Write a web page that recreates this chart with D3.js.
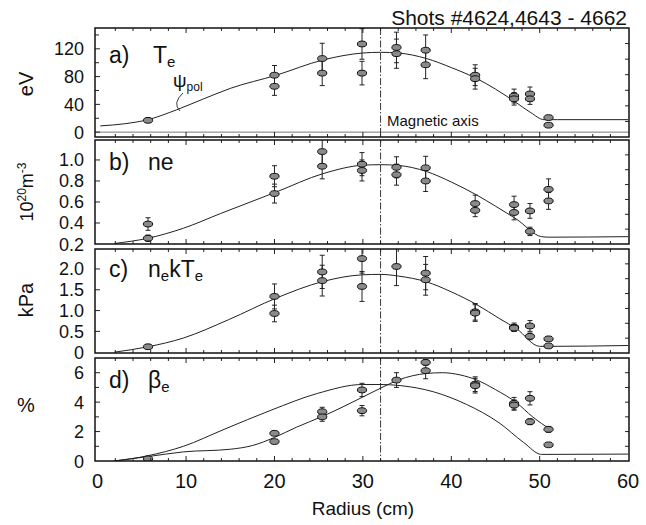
<!DOCTYPE html>
<html><head><meta charset="utf-8">
<script src="https://cdn.jsdelivr.net/npm/d3@7"></script>
<style>
body{margin:0;background:#fff;}
svg text{font-family:"Liberation Sans",Arial,Helvetica,sans-serif;fill:#111;}
</style></head>
<body><svg id="c" width="646" height="525"></svg>
<script>
// ---------- data ----------
const xTickLabels = [0, 10, 20, 30, 40, 50, 60];
const magneticAxis = 32;
// [radius cm, value, error]
const tePoints = [
 [5.7,17,3],[20,82,14],[20,66,13],[25.4,106,22],[25.4,85,18],[29.9,127,22],[29.9,85,17],
 [33.8,122,22],[33.8,113,21],[37.1,118,22],[37.1,97,20],[42.7,82,15],[42.7,77,15],
 [47.1,52,10],[47.1,48,9],[48.9,55,10],[48.9,48,8],[51.0,21,3],[51.0,10,2]];
const teCurve = [[0.3,9],[3,12],[5.7,18],[8.9,32],[12,48],[15,63],[20.2,82],[25.5,104],[30,114],
 [32,115],[34,114],[37.2,106],[40,93],[42.9,77],[45,62],[47.4,42],[49,28],[50.5,18],[52,18],[60,18]];
const nePoints = [
 [5.7,0.39,0.06],[5.7,0.255,0.03],[20,0.845,0.1],[20,0.68,0.09],[25.4,1.08,0.12],[25.4,0.94,0.12],
 [29.9,0.96,0.11],[29.9,0.9,0.1],[33.8,0.93,0.1],[33.8,0.86,0.1],[37.1,0.925,0.11],[37.1,0.8,0.1],
 [42.7,0.585,0.08],[42.7,0.52,0.06],[47.1,0.575,0.08],[47.1,0.5,0.07],[48.9,0.515,0.07],[48.9,0.32,0.04],
 [51.0,0.72,0.1],[51.0,0.61,0.08]];
const neCurve = [[1.9,0.205],[5.7,0.255],[9.7,0.35],[13.9,0.49],[20.2,0.695],[25.5,0.87],[30,0.95],[32,0.955],
 [34,0.948],[37.2,0.89],[40,0.79],[42.9,0.665],[45,0.56],[47.4,0.435],[50.2,0.27],[51,0.265],[60,0.27]];
const pePoints = [
 [5.7,0.13,0.03],[20,1.34,0.3],[20,0.93,0.2],[25.4,1.93,0.4],[25.4,1.72,0.37],[29.9,2.25,0.35],[29.9,1.58,0.36],
 [33.8,2.06,0.46],[37.1,1.9,0.4],[37.1,1.74,0.37],[42.7,0.97,0.2],[42.7,0.94,0.2],[47.1,0.6,0.1],[47.1,0.58,0.08],
 [48.9,0.63,0.13],[48.9,0.38,0.08],[51.0,0.32,0.05],[51.0,0.15,0.03]];
const peCurve = [[1.9,0],[5.7,0.13],[9.7,0.34],[14.8,0.78],[20.2,1.3],[25.5,1.7],[30,1.86],[32,1.87],[34,1.83],
 [37.2,1.69],[40,1.45],[42.9,1.14],[45.5,0.8],[47.4,0.56],[50,0.14],[51,0.14],[60,0.16]];
const bePoints = [
 [5.7,0.15,0.05],[20,1.88,0.15],[20,1.32,0.12],[25.4,3.35,0.3],[25.4,3.0,0.3],[29.9,4.83,0.45],[29.9,3.42,0.35],
 [33.8,5.5,0.5],[37.1,6.7,0.2],[37.1,6.14,0.55],[42.7,5.22,0.5],[42.7,5.12,0.5],[47.1,3.92,0.4],[47.1,3.8,0.35],
 [48.9,4.26,0.45],[48.9,2.67,0.2],[51.0,2.15,0.2],[51.0,1.1,0.08]];
const beCurve1 = [[1.9,0],[5.7,0.36],[9.7,1.0],[14.3,2.15],[19.6,3.45],[24.9,4.6],[30,5.2],[32,5.2],[34.3,5.12],
 [38,4.7],[41.7,3.85],[45.4,2.6],[48.2,1.25],[50.2,0.45],[51.5,0.45],[60,0.47]];
const beCurve2 = [[1.9,0],[5.7,0.3],[9.7,0.62],[15,0.8],[17.5,1.05],[20,1.6],[22.5,2.3],[25.5,3.05],[30,4.35],
 [32,4.95],[34,5.5],[37.2,5.95],[39,6.0],[41,5.85],[42.9,5.5],[45,4.85],[47.4,3.95],[49.2,3.0],[51.2,2.15]];
const teTicks = [0,40,80,120], teMinor = [0,20,40,60,80,100,120,140];
const neTicks = [0.2,0.4,0.6,0.8,1.0];
const peTicks = [0,0.5,1.0,1.5,2.0];
const beTicks = [0,2,4,6], beMinor = [0,1,2,3,4,5,6,7];

// ---------- layout ----------
const svg = d3.select("#c");
const L = 95, R = 629;
const x = d3.scaleLinear().domain([-0.3, 60.1]).range([L, R]);
const panels = [
 {top:28, bot:137, dom:[-7,150], ticks:teTicks, minor:teMinor, fmt:d3.format("d"), sets:[teCurve], pts:tePoints, zeroLine:true, lblY:63, unitY:84},
 {top:140, bot:244, dom:[0.2,1.19], ticks:neTicks, minor:neTicks, fmt:d3.format(".1f"), sets:[neCurve], pts:nePoints, lblY:170, unitY:192},
 {top:249, bot:353, dom:[-0.02,2.48], ticks:peTicks, minor:peTicks, fmt:d => d===0?"0":d3.format(".1f")(d), sets:[peCurve], pts:pePoints, lblY:277, unitY:300},
 {top:358, bot:461, dom:[0,7], ticks:beTicks, minor:beMinor, fmt:d3.format("d"), sets:[beCurve1, beCurve2], pts:bePoints, lblY:388, unitY:405}
];

panels.forEach((p, i) => {
  const y = d3.scaleLinear().domain(p.dom).range([p.bot, p.top]);
  const g = svg.append("g");
  const clipId = "clip" + i;
  svg.append("clipPath").attr("id", clipId).append("rect")
    .attr("x", L).attr("y", p.top).attr("width", R - L).attr("height", p.bot - p.top);
  const inner = g.append("g").attr("clip-path", `url(#${clipId})`);

  if (p.zeroLine) {
    inner.append("line").attr("x1", L).attr("x2", R).attr("y1", y(0)).attr("y2", y(0))
      .attr("stroke", "#777").attr("stroke-width", 1);
  }
  inner.append("line").attr("x1", x(magneticAxis)).attr("x2", x(magneticAxis))
    .attr("y1", p.top).attr("y2", p.bot).attr("stroke", "#222").attr("stroke-width", 0.9)
    .attr("stroke-dasharray", "7,2,1.5,2");
  const line = d3.line().x(d => x(d[0])).y(d => y(d[1])).curve(d3.curveMonotoneX);
  p.sets.forEach(s => inner.append("path").attr("d", line(s)).attr("fill", "none")
    .attr("stroke", "#222").attr("stroke-width", 1));
  const eb = inner.append("g").attr("stroke", "#222").attr("stroke-width", 1);
  p.pts.forEach(d => {
    const cx = x(d[0]), y1 = y(d[1] + d[2]), y2 = y(d[1] - d[2]);
    eb.append("line").attr("x1", cx).attr("x2", cx).attr("y1", y1).attr("y2", y2);
    eb.append("line").attr("x1", cx - 2.5).attr("x2", cx + 2.5).attr("y1", y1).attr("y2", y1);
    eb.append("line").attr("x1", cx - 2.5).attr("x2", cx + 2.5).attr("y1", y2).attr("y2", y2);
  });
  inner.selectAll("ellipse").data(p.pts).join("ellipse")
    .attr("cx", d => x(d[0])).attr("cy", d => y(d[1])).attr("rx", 4.6).attr("ry", 2.9)
    .attr("fill", "#8a8a8a").attr("stroke", "#111").attr("stroke-width", 1);

  const tk = g.append("g").attr("stroke", "#222").attr("stroke-width", 1);
  p.minor.forEach(v => {
    const yy = y(v);
    if (yy <= p.top + 1 || yy >= p.bot - 1) return;
    const len = p.ticks.includes(v) ? 5 : 4;
    tk.append("line").attr("x1", L).attr("x2", L + len).attr("y1", yy).attr("y2", yy);
  });
  d3.range(1, 7).forEach(k => {
    const yy = p.top + k * (p.bot - p.top) / 7;
    tk.append("line").attr("x1", R - 4).attr("x2", R).attr("y1", yy).attr("y2", yy);
  });
  d3.range(2, 60, 2).forEach(v => {
    const len = v % 10 === 0 ? 5 : 3;
    tk.append("line").attr("x1", x(v)).attr("x2", x(v)).attr("y1", p.top).attr("y2", p.top + len);
    tk.append("line").attr("x1", x(v)).attr("x2", x(v)).attr("y1", p.bot).attr("y2", p.bot - len);
  });
  g.append("rect").attr("x", L).attr("y", p.top).attr("width", R - L).attr("height", p.bot - p.top)
    .attr("fill", "none").attr("stroke", "#111").attr("stroke-width", 1.5);
  g.selectAll("text.yl").data(p.ticks).join("text").attr("class", "yl")
    .attr("x", 84).attr("y", d => y(d) + 6.5)
    .attr("text-anchor", "end").attr("font-size", 18).text(p.fmt);
});

svg.selectAll("text.xl").data(xTickLabels).join("text").attr("class", "xl")
  .attr("x", d => x(d)).attr("y", 488).attr("text-anchor", "middle").attr("font-size", 20).text(d => d);
svg.append("text").attr("x", x(30)).attr("y", 515).attr("text-anchor", "middle")
  .attr("font-size", 19).text("Radius (cm)");

svg.append("text").attr("x", 627).attr("y", 25).attr("text-anchor", "end").attr("font-size", 21)
  .text("Shots #4624,4643 - 4662");

(function(){
  const pa = panels[0];
  const t = svg.append("text").attr("x", 109).attr("y", pa.lblY).attr("font-size", 23);
  t.append("tspan").text("a)");
  t.append("tspan").attr("x", 153).text("T");
  t.append("tspan").attr("font-size", 15).attr("dy", 4).text("e");
  const pb = panels[1];
  const tb = svg.append("text").attr("x", 109).attr("y", pb.lblY).attr("font-size", 23);
  tb.append("tspan").text("b)");
  tb.append("tspan").attr("x", 148).text("ne");
  const pc = panels[2];
  const tc = svg.append("text").attr("x", 109).attr("y", pc.lblY).attr("font-size", 23);
  tc.append("tspan").text("c)");
  tc.append("tspan").attr("x", 148).text("n");
  tc.append("tspan").attr("font-size", 15).attr("dy", 4).text("e");
  tc.append("tspan").attr("dy", -4).text("kT");
  tc.append("tspan").attr("font-size", 15).attr("dy", 4).text("e");
  const pd = panels[3];
  const td = svg.append("text").attr("x", 109).attr("y", pd.lblY).attr("font-size", 23);
  td.append("tspan").text("d)");
  td.append("tspan").attr("x", 148).text("β");
  td.append("tspan").attr("font-size", 15).attr("dy", 4).text("e");
})();

svg.append("text").attr("transform", `translate(33,${panels[0].unitY}) rotate(-90)`)
  .attr("text-anchor", "middle").attr("font-size", 20).text("eV");
(function(){
  const t = svg.append("text").attr("transform", `translate(33,${panels[1].unitY}) rotate(-90)`)
    .attr("text-anchor", "middle").attr("font-size", 18);
  t.append("tspan").text("10");
  t.append("tspan").attr("font-size", 12).attr("dy", -7).text("20");
  t.append("tspan").attr("dy", 7).text("m");
  t.append("tspan").attr("font-size", 12).attr("dy", -7).text("-3");
})();
svg.append("text").attr("transform", `translate(33,${panels[2].unitY}) rotate(-90)`)
  .attr("text-anchor", "middle").attr("font-size", 20).text("kPa");
svg.append("text").attr("x", 26).attr("y", panels[3].unitY + 7)
  .attr("text-anchor", "middle").attr("font-size", 20).text("%");

(function(){
  const t = svg.append("text").attr("x", 173).attr("y", 87).attr("font-size", 19);
  t.append("tspan").text("ψ");
  t.append("tspan").attr("font-size", 12).attr("dy", 4).text("pol");
  svg.append("path").attr("d", "M183,93 Q172,103 180,111").attr("fill", "none")
    .attr("stroke", "#222").attr("stroke-width", 0.9);
})();
svg.append("text").attr("x", 387).attr("y", 126).attr("font-size", 15).text("Magnetic axis");
</script></body></html>
